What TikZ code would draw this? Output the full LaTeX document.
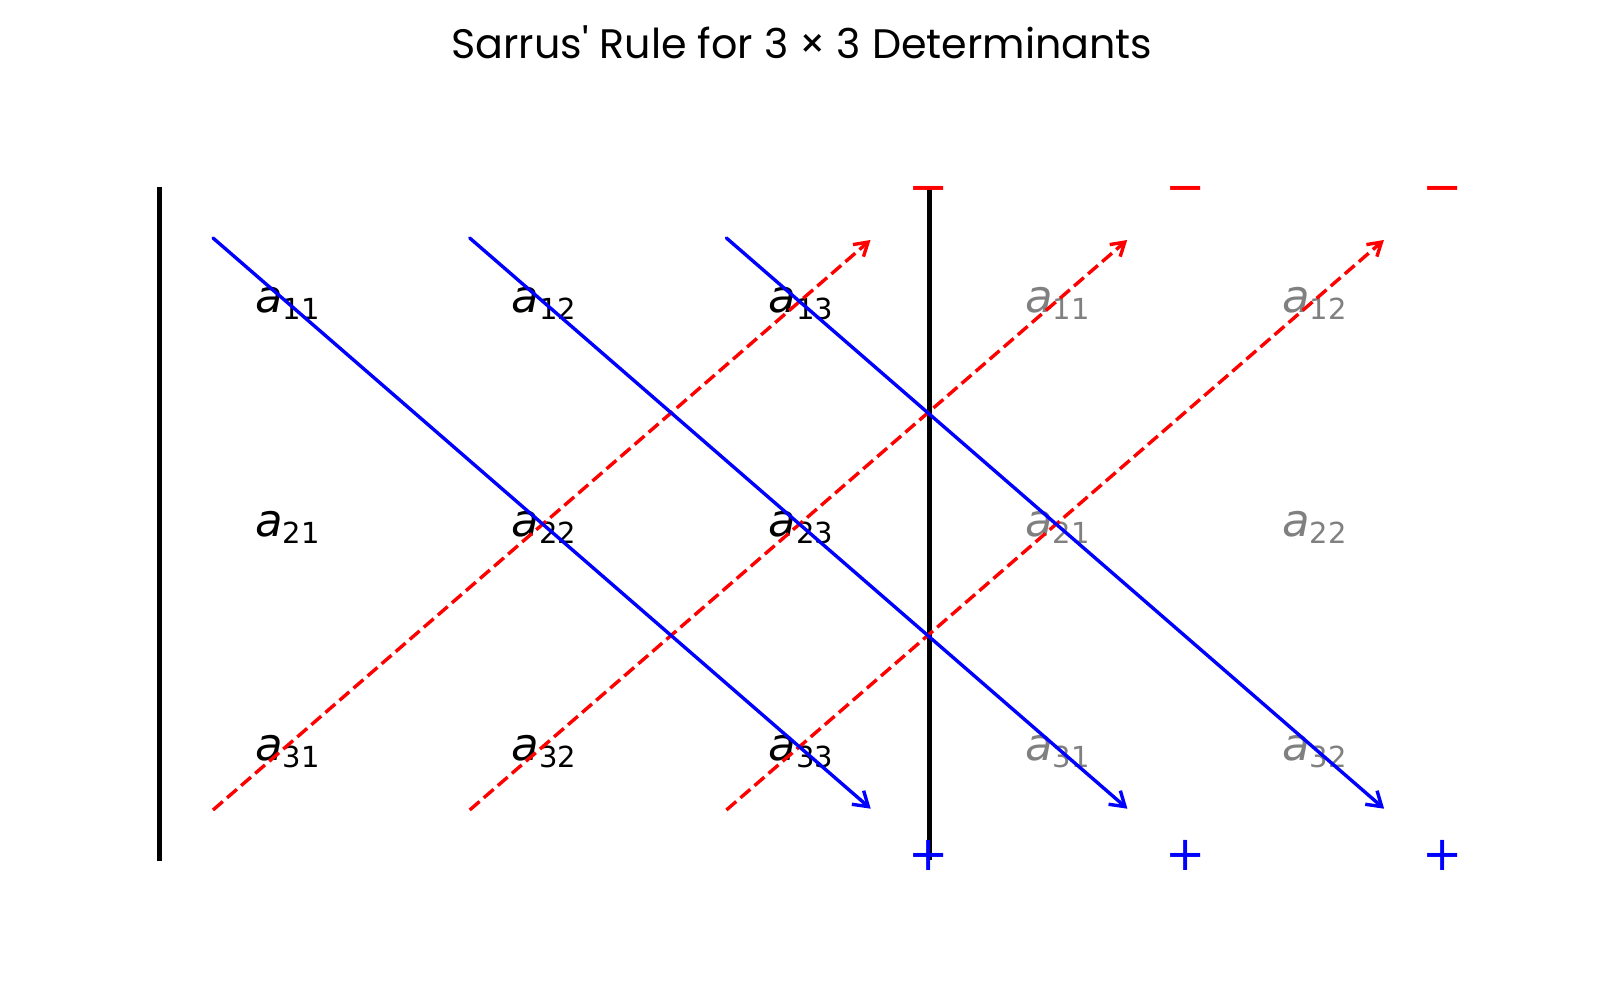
\documentclass[tikz,border=0pt]{standalone}
\usepackage{fontspec}
\newfontfamily\titlefont[Ligatures=TeXOff]{Poppins}
\newfontfamily\djv{DejaVu Sans}
\usetikzlibrary{arrows.meta}
\definecolor{pblue}{RGB}{0,0,255}
\definecolor{pred}{RGB}{255,0,0}
\definecolor{pgray}{RGB}{128,128,128}
\newcommand\matent[1]{{\djv\fontsize{22.5pt}{22.5pt}\selectfont\itshape a}\raisebox{-3.5pt}{\djv\fontsize{14.5pt}{14.5pt}\selectfont #1}}
\begin{document}
\begin{tikzpicture}[x=0.5pt,y=-0.5pt,
  entry/.style={anchor=base, inner sep=0pt, text=black},
  ghost/.style={entry, text=pgray},
  bar/.style={line width=2.5pt, black},
  plusdiag/.style={pblue, line width=1.7pt, line cap=round, -{Straight Barb[length=7pt,width=9pt]}},
  minusdiag/.style={pred, line width=1.7pt, dash pattern=on 6.5pt off 2.8pt, -{Straight Barb[length=6.5pt,width=8pt]}},
  sign/.style={font=\djv\fontsize{24pt}{24pt}\selectfont, inner sep=0pt, anchor=center}]
\useasboundingbox (0,0) rectangle (1600,1000);
% title
\node[font=\titlefont\fontsize{20.6pt}{20.6pt}\selectfont, anchor=base, inner sep=0pt] (title) at (802,59) {Sarrus' Rule for 3 × 3 Determinants};
% bars
\coordinate (lbt) at (159,187); \coordinate (lbb) at (159,861);
\coordinate (rbt) at (929,187); \coordinate (rbb) at (929,860);
\draw[bar] (lbt) -- (lbb);
\draw[bar] (rbt) -- (rbb);
% entries
\node[entry] (e11) at (287.5,312) {\matent{11}};
\node[entry] (e12) at (544.2,312) {\matent{12}};
\node[entry] (e13) at (800.9,312) {\matent{13}};
\node[entry] (e21) at (287.5,536) {\matent{21}};
\node[entry] (e22) at (544.2,536) {\matent{22}};
\node[entry] (e23) at (800.9,536) {\matent{23}};
\node[entry] (e31) at (287.5,760) {\matent{31}};
\node[entry] (e32) at (544.2,760) {\matent{32}};
\node[entry] (e33) at (800.9,760) {\matent{33}};
\node[ghost] (g11) at (1057.6,312) {\matent{11}};
\node[ghost] (g12) at (1314.3,312) {\matent{12}};
\node[ghost] (g21) at (1057.6,536) {\matent{21}};
\node[ghost] (g22) at (1314.3,536) {\matent{22}};
\node[ghost] (g31) at (1057.6,760) {\matent{31}};
\node[ghost] (g32) at (1314.3,760) {\matent{32}};
% diagonals
\foreach \k in {0,1,2}{
  \coordinate (rs\k) at ({213+256.7*\k},810);
  \coordinate (re\k) at ({870.5+256.7*\k},240);
  \draw[minusdiag] (rs\k) -- (re\k);
}
\foreach \k in {0,1,2}{
  \coordinate (bs\k) at ({213+256.7*\k},238);
  \coordinate (be\k) at ({870.7+256.7*\k},808.7);
  \draw[plusdiag] (bs\k) -- (be\k);
}
% signs
\node[sign, text=pred] (m1) at (929,195) {−};
\node[sign, text=pred] (m2) at (1185.7,195) {−};
\node[sign, text=pred] (m3) at (1442.4,195) {−};
\node[sign, text=pblue] (p1) at (929,855) {+};
\node[sign, text=pblue] (p2) at (1185.7,855) {+};
\node[sign, text=pblue] (p3) at (1442.4,855) {+};
\end{tikzpicture}
\end{document}
